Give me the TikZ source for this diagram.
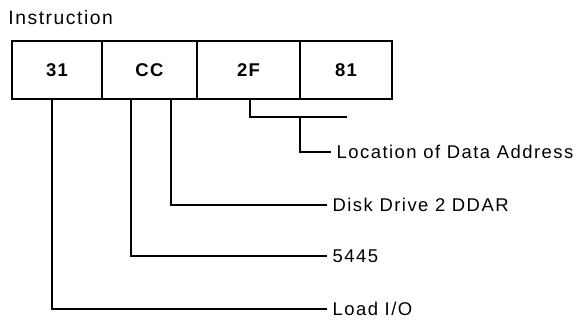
\documentclass[tikz,border=0pt]{standalone}
\usepackage{fontspec}
\setmainfont{Liberation Sans}[LetterSpace=8]
\usetikzlibrary{positioning}
\tikzset{
  field/.style={draw, line width=1.1pt, minimum height=1.16cm, inner sep=0pt, font=\fontsize{10.5}{12}\selectfont\bfseries},
  lead/.style={line width=1.1pt},
  legend/.style={anchor=west, inner sep=3pt}
}
\begin{document}
\begin{tikzpicture}[font=\fontsize{10.5}{12}\selectfont]
    \useasboundingbox (0,0) rectangle (11.56,6.5);
    \node[anchor=west, inner sep=0pt, font=\fontsize{11}{13}\selectfont] (title) at (0.16,6.14) {Instruction};
    % instruction fields
    \node[field, minimum width=1.80cm] (b31) at (1.14,5.10) {31};
    \node[field, minimum width=1.90cm] (bCC) at (2.99,5.10) {CC};
    \node[field, minimum width=2.06cm] (b2F) at (4.97,5.10) {2F};
    \node[field, minimum width=1.84cm] (b81) at (6.92,5.10) {81};
    % meanings
    \node[legend] (loc)  at (6.62,3.46) {Location of Data Address};
    \node[legend] (ddar) at (6.54,2.40) {Disk Drive 2 DDAR};
    \node[legend] (da)   at (6.54,1.38) {5445};
    \node[legend] (lio)  at (6.54,0.32) {Load I/O};
    % taps on the field bottoms
    \coordinate (t31)  at (1.04,4.52);
    \coordinate (tCCa) at (2.62,4.52);
    \coordinate (tCCb) at (3.42,4.52);
    \coordinate (t2F)  at (5.00,4.52);
    \coordinate (q2F)  at (6.94,4.16);
    \coordinate (fork) at (6.00,4.16);
    \draw[lead] (t31) |- (lio.west);
    \draw[lead] (tCCa) |- (da.west);
    \draw[lead] (tCCb) |- (ddar.west);
    \draw[lead] (t2F) |- (q2F);
    \draw[lead] (fork) |- (loc.west);
\end{tikzpicture}
\end{document}
